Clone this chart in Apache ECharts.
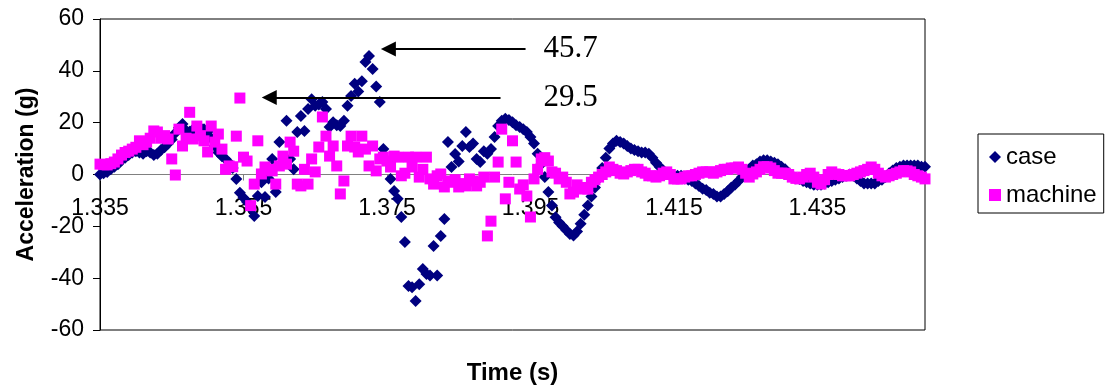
<!DOCTYPE html>
<html><head><meta charset="utf-8">
<script src="https://cdn.jsdelivr.net/npm/echarts@6/dist/echarts.min.js"></script>
<style>html,body{margin:0;padding:0;background:#fff}#c{width:1111px;height:390px}</style>
</head><body><div id="c"></div>
<script>
// sample clock (s)
const sampleTime = [
1.335,1.3355,1.336,1.3365,1.337,1.3375,1.338,1.3385,1.339,1.3395,
1.34,1.3405,1.341,1.3415,1.342,1.3425,1.343,1.3435,1.344,1.3445,
1.345,1.3455,1.346,1.3465,1.347,1.3475,1.348,1.3485,1.349,1.3495,
1.35,1.3505,1.351,1.3515,1.352,1.3525,1.353,1.3535,1.354,1.3545,
1.355,1.3555,1.356,1.3565,1.357,1.3575,1.358,1.3585,1.359,1.3595,
1.36,1.3605,1.361,1.3615,1.362,1.3625,1.363,1.3635,1.364,1.3645,
1.365,1.3655,1.366,1.3665,1.367,1.3675,1.368,1.3685,1.369,1.3695,
1.37,1.3705,1.371,1.3715,1.372,1.3725,1.373,1.3735,1.374,1.3745,
1.375,1.3755,1.376,1.3765,1.377,1.3775,1.378,1.3785,1.379,1.3795,
1.38,1.3805,1.381,1.3815,1.382,1.3825,1.383,1.3835,1.384,1.3845,
1.385,1.3855,1.386,1.3865,1.387,1.3875,1.388,1.3885,1.389,1.3895,
1.39,1.3905,1.391,1.3915,1.392,1.3925,1.393,1.3935,1.394,1.3945,
1.395,1.3955,1.396,1.3965,1.397,1.3975,1.398,1.3985,1.399,1.3995,
1.4,1.4005,1.401,1.4015,1.402,1.4025,1.403,1.4035,1.404,1.4045,
1.405,1.4055,1.406,1.4065,1.407,1.4075,1.408,1.4085,1.409,1.4095,
1.41,1.4105,1.411,1.4115,1.412,1.4125,1.413,1.4135,1.414,1.4145,
1.415,1.4155,1.416,1.4165,1.417,1.4175,1.418,1.4185,1.419,1.4195,
1.42,1.4205,1.421,1.4215,1.422,1.4225,1.423,1.4235,1.424,1.4245,
1.425,1.4255,1.426,1.4265,1.427,1.4275,1.428,1.4285,1.429,1.4295,
1.43,1.4305,1.431,1.4315,1.432,1.4325,1.433,1.4335,1.434,1.4345,
1.435,1.4355,1.436,1.4365,1.437,1.4375,1.438,1.4385,1.439,1.4395,
1.44,1.4405,1.441,1.4415,1.442,1.4425,1.443,1.4435,1.444,1.4445,
1.445,1.4455,1.446,1.4465,1.447,1.4475,1.448,1.4485,1.449,1.4495,
1.45
];
// acceleration (g) of the case
const caseAcc = [
0,0.5,1,2,3,4,5.5,6.5,7.5,8.5,
9,8.5,8,9,8.5,7.5,8,9.5,10.5,12,
13.5,16,18,19.5,17,16.5,17.5,17.5,18,17.5,
16.5,14,11,8.5,7,6,4.5,2.5,-1.7,-7,
-9,-10.6,-13,-16,-8.3,-3,-8.7,-1.5,6,-6.8,
12.5,4,20.7,6,2,16.4,22.6,16.8,25.3,29,
26.5,27,28,25.3,18.3,20.2,19,18.7,20.7,26.5,
30.3,35,32,36,43.4,45.7,40.7,34,28,9.8,
5,-1.7,-6.4,-9.4,-16.4,-26,-43,-43.5,-48.8,-42.3,
-36.5,-38.4,-39,-27.6,-39,-23.7,-17.2,12.5,2.9,7.9,
5,11,16.4,10.6,12,6,4.8,9,8,9.8,
14.5,18.7,20.7,21.5,21,20.2,19,18.3,17.5,16.4,
14.5,12,8,4,-1,-6.8,-12,-16.5,-18.5,-20,
-21.5,-23,-23.5,-22,-19,-15.5,-12,-8.5,-5,-1.5,
2.5,6.5,10,12,13,12.5,12,11,10,9.5,
9,8.5,8.5,8,6.5,4.5,3,1.5,0.2,-0.5,
-0.5,-0.5,-0.5,-1.5,-2,-2.5,-3.5,-4.4,-5.5,-6,
-7,-7.5,-8.5,-8.5,-7.5,-6.5,-5,-4,-2.5,-1,
0.5,2,3.5,4,5,5.5,5.5,5,4.5,4,
3,2,0.5,-0.5,-1.5,-1.7,-2.5,-3,-3.5,-4,
-4,-4,-3.5,-3,-2.5,-2,-1.5,-1,-0.5,0,
-0.5,-1.5,-2.5,-3.5,-3.5,-3.5,-3.5,-2.5,-2,-1,
0.5,1.5,2.5,3,3.5,3.5,3.5,3.5,3.5,3,
3
];
// acceleration (g) of the machine
const machineAcc = [
4,3.8,3.7,4.2,4.8,6,7.5,8.5,9,9.8,
10.5,13,11.5,12.5,14,16.8,16.4,14,15,13.7,
6,-0.2,17.5,11,14,24,13.7,18.7,15,13,
8.7,18.7,12.5,15.6,9.8,2,3.3,3,14.8,29.5,
6.7,5.2,-12,-3.7,13,0.2,2.9,2,1.4,-3.7,
3.3,7.1,4,12.5,9,-3.7,-4.4,2,-3.7,6,
1,10.6,22.2,14.8,7.1,11,3.3,-7.5,-2.5,11,
14.8,10.6,8.7,14.8,9.8,3.3,11,1.4,6,6.7,
5.2,2.9,7.1,6.7,-0.5,0.5,6.7,2.9,6.7,-1,
2,6.7,-1.7,-3.7,-0.5,0.2,-4.8,-2.5,-3,-2,
-4.8,-3.5,-4.4,-1.7,-2.5,-4.4,-3,-1,-23.7,-18,
-1,4.8,17.5,-9.4,-3,13,4.8,-5.6,-4,-8.3,
-16.4,-1.7,2,6,6.5,5.2,1,0.5,-1.7,-1,
-3,-7.5,-6.8,-4,-5,-5.6,-5.6,-3,-2,-1,
0,1,2.9,2,1.5,0.5,0.2,1,1.5,2,
2,1,0.5,-0.5,-0.5,-1,-0.5,0.5,1,0,
-1.7,-1.7,-1.7,-1,-0.5,-0.5,0,0.5,1,1,
1,0.5,1,1.5,2,2,2.5,2.5,2.9,2,
0.5,-1,0.2,1,2,3,3,2.5,1.5,0.5,
0.5,0.5,0,-1,-1.5,-1.7,-1,0,0.5,-1,
-3,-3.7,-2,0,1,0.2,0,-0.5,-0.5,-0.5,
0,0.5,1,1.5,2,2.9,2,0.5,-0.5,-1,
-0.5,0,0.5,1,1.5,1.4,1,0,-0.5,-1,
-1.7
];
const xTicks = [1.335, 1.355, 1.375, 1.395, 1.415, 1.435];
const seriesNames = ['case', 'machine'];
const peakLabels = ['45.7', '29.5'];

const SANS = 'Liberation Sans, Arial, sans-serif';
const SERIF = 'Liberation Serif, Times New Roman, serif';
const GRID_H = 390 - 19 - 60;
const chart = echarts.init(document.getElementById('c'), null, {renderer: 'canvas'});
chart.setOption({
  animation: false,
  backgroundColor: '#fff',
  grid: {left: 100, right: 186, top: 19, bottom: 60, show: true, borderColor: '#000', borderWidth: 1,
    backgroundColor: 'transparent', containLabel: false, outerBoundsMode: 'none'},
  xAxis: {
    type: 'value', min: 1.335, max: 1.45, position: 'bottom',
    offset: -GRID_H / 2,   // x axis crosses the value axis at 0 (midway between -60 and 60)
    name: 'Time (s)', nameLocation: 'middle', nameGap: 187,
    nameTextStyle: {fontFamily: SANS, fontSize: 24, fontWeight: 'bold', color: '#000'},
    axisLine: {onZero: false, lineStyle: {color: '#808080', width: 1}},
    axisTick: {show: true, length: 6, lineStyle: {color: '#808080'}, customValues: xTicks},
    axisLabel: {fontFamily: SANS, fontSize: 23, color: '#000', margin: 23, customValues: xTicks,
      formatter: v => Number(v).toFixed(3)},
    splitLine: {show: false}
  },
  yAxis: {
    type: 'value', min: -60, max: 60, interval: 20,
    name: 'Acceleration (g)', nameLocation: 'middle', nameGap: 62, nameRotate: 90,
    nameTextStyle: {fontFamily: SANS, fontSize: 23, fontWeight: 'bold', color: '#000'},
    axisLine: {show: true, onZero: false, lineStyle: {color: '#000', width: 1}},
    axisTick: {show: true, length: 7, lineStyle: {color: '#000'}},
    axisLabel: {fontFamily: SANS, fontSize: 23, color: '#000', margin: 16},
    splitLine: {show: false}
  },
  legend: {
    orient: 'vertical', left: 978, top: 134, padding: [11, 7, 6, 11], itemGap: 14,
    itemWidth: 12, itemHeight: 12, borderColor: '#000', borderWidth: 1, backgroundColor: '#fff',
    textStyle: {fontFamily: SANS, fontSize: 24, color: '#000'},
    data: [{name: seriesNames[0], icon: 'diamond'}, {name: seriesNames[1], icon: 'rect'}]
  },
  series: [
    {
      name: seriesNames[0], type: 'scatter', symbol: 'diamond', symbolSize: 12,
      itemStyle: {color: '#000080', opacity: 1},
      data: sampleTime.map((t, i) => [t, caseAcc[i]]),
      markLine: {
        silent: true, symbol: ['none', 'triangle'], symbolSize: 15,
        lineStyle: {color: '#000', width: 2, type: 'solid'},
        itemStyle: {color: '#000'},
        label: {show: true, position: 'start', fontFamily: SERIF, fontSize: 31, color: '#000', padding: [8, 0, 0, 0]},
        emphasis: {disabled: true},
        data: [
          [{coord: [1.39432, 48.4], label: {formatter: peakLabels[0], distance: 18}}, {coord: [1.3752, 48.4]}],
          [{coord: [1.39083, 29.7], label: {formatter: peakLabels[1], distance: 43}}, {coord: [1.35859, 29.7]}]
        ]
      }
    },
    {
      name: seriesNames[1], type: 'scatter', symbol: 'rect', symbolSize: 11,
      itemStyle: {color: '#FF00FF', opacity: 1},
      data: sampleTime.map((t, i) => [t, machineAcc[i]])
    }
  ]
});
</script></body></html>
